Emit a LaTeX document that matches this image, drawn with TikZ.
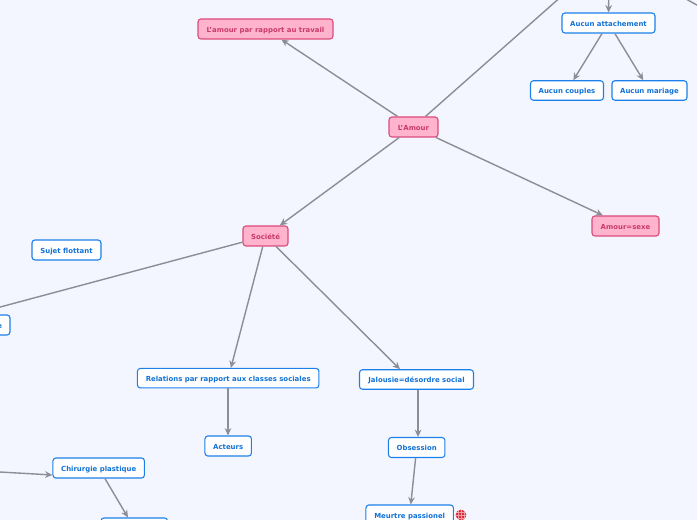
\documentclass[tikz,border=0pt]{standalone}
\usepackage{fontspec}
\setmainfont{DejaVu Sans}
\usetikzlibrary{arrows.meta}
\definecolor{bgc}{HTML}{F3F6FF}
\definecolor{pinkfill}{HTML}{FFB3CC}
\definecolor{pinkline}{HTML}{DC4A7C}
\definecolor{pinktext}{HTML}{C93A6B}
\definecolor{blueline}{HTML}{1C80EA}
\definecolor{bluetext}{HTML}{1272D6}
\definecolor{linkc}{HTML}{8D8D96}
\definecolor{iconred}{HTML}{E02B3C}
\tikzset{
  x=0.75pt,y=-0.75pt,
  boxsize/.style 2 args={minimum width=#1*0.75pt,minimum height=#2*0.75pt},
  basebox/.style={rounded corners=2.2pt,line width=0.8pt,inner sep=0pt,text height=4.8pt,text depth=0pt,font=\fontsize{5.2pt}{6pt}\selectfont\bfseries},
  pinkbox/.style={basebox,draw=pinkline,fill=pinkfill,text=pinktext},
  bluebox/.style={basebox,draw=blueline,fill=white,text=bluetext},
  link/.style={draw=linkc,line width=1.05pt,-{Stealth[length=5.5pt,width=5pt]}},
  plainlink/.style={draw=linkc,line width=1.05pt}
}
\begin{document}
\begin{tikzpicture}
\useasboundingbox (0,0) rectangle (697,520);
\clip (0,0) rectangle (697,520);
\fill[bgc] (0,0) rectangle (697,520);
% pink nodes
\node[pinkbox,boxsize={49}{20}] (amour) at (413.5,127) {L'Amour};
\node[pinkbox,boxsize={135}{20}] (travail) at (265.5,29) {L'amour par rapport au travail};
\node[pinkbox,boxsize={45}{20}] (societe) at (265.5,236) {Société};
\node[pinkbox,boxsize={67}{20}] (sexe) at (625.5,226) {Amour=sexe};
% blue nodes
\node[bluebox,boxsize={93}{20}] (attache) at (608.5,23) {Aucun attachement};
\node[bluebox,boxsize={73}{19.5}] (couples) at (567,90.5) {Aucun couples};
\node[bluebox,boxsize={75}{19.5}] (mariage) at (649.5,90.5) {Aucun mariage};
\node[bluebox,boxsize={69}{20}] (flottant) at (66.5,250) {Sujet flottant};
\node[bluebox,boxsize={154}{20},text width=138*0.75pt,align=right] (clipped) at (-67,325) {e};
\node[bluebox,boxsize={181.5}{19.5}] (relations) at (228.2,378.2) {Relations par rapport aux classes sociales};
\node[bluebox,boxsize={114}{19.5}] (jalousie) at (416.5,379.5) {Jalousie=désordre social};
\node[bluebox,boxsize={46.5}{20}] (acteurs) at (228.2,446) {Acteurs};
\node[bluebox,boxsize={56.5}{20}] (obsession) at (416.7,447.5) {Obsession};
\node[bluebox,boxsize={87.5}{20}] (meurtre) at (409.7,515) {Meurtre passionel};
\node[bluebox,boxsize={91.5}{20}] (chirurgie) at (98.7,468) {Chirurgie plastique};
\node[bluebox,boxsize={66.5}{20}] (bas) at (134.2,528) {};
% free ends
\coordinate (hautA) at (580,-20);
\coordinate (hautB) at (608.9,-20);
\coordinate (hautC) at (670,-10);
\coordinate (hautD) at (720,18);
\coordinate (gaucheA) at (-30,470.3);
% connectors
\draw[link] (amour) -- (travail);
\draw[plainlink] (amour) -- (hautA);
\draw[link] (hautB) -- (attache);
\draw[plainlink] (hautC) -- (hautD);
\draw[link] (attache) -- (couples);
\draw[link] (attache) -- (mariage);
\draw[link] (amour) -- (societe);
\draw[link] (amour) -- (sexe);
\draw[plainlink] (societe) -- (clipped);
\draw[link] (societe) -- (relations);
\draw[link] (societe) -- ([xshift=-12.4pt]jalousie.north);
\draw[link,line width=1.25pt] ([xshift=-0.15pt]relations.south) -- ([xshift=-0.15pt]acteurs.north);
\draw[link,line width=1.25pt] ([xshift=1.1pt]jalousie.south) -- ([xshift=1pt]obsession.north);
\draw[link] (obsession) -- (meurtre);
\draw[link] (gaucheA) -- ([yshift=-5.25pt]chirurgie.west);
\draw[link] (chirurgie) -- (bas);
% icon
\fill[iconred] (461,515) circle (5.4);
\draw[white,opacity=0.55,line width=0.35pt] (458,510) -- (458,520) (461,509.5) -- (461,520.5) (464,510) -- (464,520)
  (456,512) -- (466,512) (455.5,515) -- (466.5,515) (456,518) -- (466,518);
\end{tikzpicture}
\end{document}
